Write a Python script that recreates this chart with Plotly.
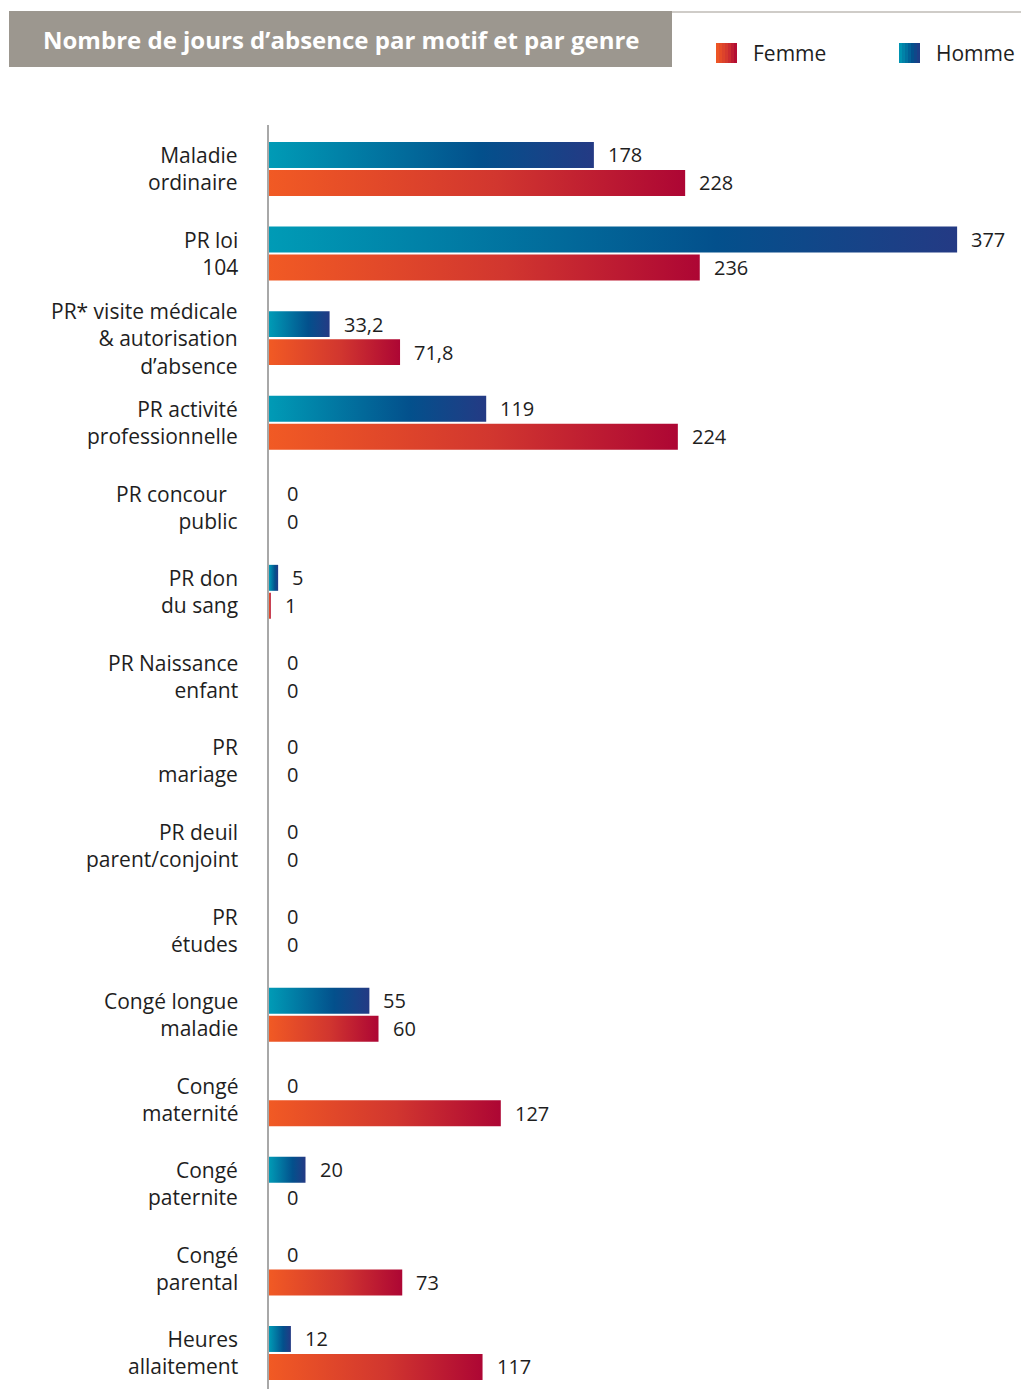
import plotly.graph_objects as go


categories = [
    "Maladie<br>ordinaire",
    "PR loi<br>104",
    "PR* visite médicale<br>& autorisation<br>d’absence",
    "PR activité<br>professionnelle",
    "PR concour\u00a0\u00a0<br>public",
    "PR don<br>du sang",
    "PR Naissance<br>enfant",
    "PR<br>mariage",
    "PR deuil<br>parent/conjoint",
    "PR<br>études",
    "Congé longue<br>maladie",
    "Congé<br>maternité",
    "Congé<br>paternite",
    "Congé<br>parental",
    "Heures<br>allaitement",
]
homme = [178, 377, 33.2, 119, 0, 5, 0, 0, 0, 0, 55, 0, 20, 0, 12]
femme = [228, 236, 71.8, 224, 0, 1, 0, 0, 0, 0, 60, 127, 0, 73, 117]
series_names = ["Femme", "Homme"]
title_text = "Nombre de jours d’absence par motif et par genre"

HOMME_SCALE = [[0, "#009bb6"], [0.65, "#03508c"], [1, "#243a84"]]
FEMME_SCALE = [[0, "#f15a24"], [0.55, "#d1362f"], [1, "#ad0634"]]
FONT = "Open Sans, Noto Sans, sans-serif"
TEXT_COLOR = "#1e1e1e"

W, H = 1021, 1389
M_L, M_T = 269, 125
BAR_H = 0.307
GAP = 0.012


def px_x(px):
    return (px - M_L) / (W - M_L)


def px_y(py):
    return (H - py) / (H - M_T)


def fmt(v):
    return f"{v:g}".replace(".", ",")


def hex_rgb(h):
    h = h.lstrip("#")
    return tuple(int(h[k:k + 2], 16) for k in (0, 2, 4))


def sample_scale(scale, t):
    for (a, ca), (b, cb) in zip(scale[:-1], scale[1:]):
        if a <= t <= b:
            u = (t - a) / (b - a)
            ra, rb = hex_rgb(ca), hex_rgb(cb)
            return "rgb(%d,%d,%d)" % tuple(round(x + (y - x) * u) for x, y in zip(ra, rb))
    return scale[-1][1]


fig = go.Figure()

for i, cat in enumerate(categories):
    rows = [
        (homme[i], i - GAP - BAR_H, i - GAP, HOMME_SCALE, "Homme"),
        (femme[i], i + GAP, i + GAP + BAR_H, FEMME_SCALE, "Femme"),
    ]
    for val, y0, y1, scale, name in rows:
        if val > 0:
            fig.add_trace(go.Scatter(
                x=[0, val, val, 0, 0],
                y=[y0, y0, y1, y1, y0],
                mode="lines",
                line=dict(width=0, color="rgba(0,0,0,0)"),
                fill="toself",
                fillgradient=dict(type="horizontal", colorscale=scale, start=0, stop=val),
                hoveron="fills",
                hoverinfo="text",
                text=f"{cat.replace('<br>', ' ')} – {name} : {fmt(val)}",
                name=name,
                showlegend=False,
            ))
        fig.add_annotation(
            x=val, y=(y0 + y1) / 2, text=fmt(val),
            xanchor="left", xshift=12 if val > 0 else 16, showarrow=False,
            font=dict(family=FONT, size=20, color=TEXT_COLOR),
        )
    fig.add_annotation(
        xref="paper", x=0, y=i, text=cat,
        xanchor="right", align="right", xshift=-29, showarrow=False,
        font=dict(family=FONT, size=21, color=TEXT_COLOR),
    )

# title box
fig.add_shape(type="rect", xref="paper", yref="paper",
              x0=px_x(9), x1=px_x(672), y0=px_y(67), y1=px_y(11),
              fillcolor="#9c978f", line_width=0)
fig.add_shape(type="line", xref="paper", yref="paper",
              x0=px_x(672), x1=px_x(W), y0=px_y(12), y1=px_y(12),
              line=dict(color="#cfccc8", width=2))
fig.add_annotation(xref="paper", yref="paper", x=px_x(341), y=px_y(40),
                   xanchor="center", yanchor="middle",
                   text=f"<b>{title_text}</b>", showarrow=False,
                   font=dict(family=FONT, size=24, color="white"))

# legend
for name, scale, sx in zip(series_names, [FEMME_SCALE, HOMME_SCALE], [716, 899]):
    n = 7
    for k in range(n):
        fig.add_shape(type="rect", xref="paper", yref="paper",
                      x0=px_x(sx + 3 * k), x1=px_x(sx + 3 * k + 3),
                      y0=px_y(63), y1=px_y(43),
                      fillcolor=sample_scale(scale, (k + 0.5) / n), line_width=0)
    fig.add_annotation(xref="paper", yref="paper", x=px_x(sx + 35), y=px_y(53),
                       xanchor="left", yanchor="middle", text=name, showarrow=False,
                       font=dict(family=FONT, size=21, color=TEXT_COLOR))

fig.update_layout(
    width=W, height=H,
    margin=dict(l=M_L, r=0, t=M_T, b=0),
    plot_bgcolor="white",
    paper_bgcolor="white",
    showlegend=False,
    font=dict(family=FONT, color=TEXT_COLOR),
)
fig.update_xaxes(range=[0, 412], visible=False)
fig.update_yaxes(range=[14.426, -0.52], showticklabels=False, showgrid=False,
                 zeroline=False, showline=True, linecolor="#a8a8a8", linewidth=2)

fig.write_html("out.html", config={"displayModeBar": False},
               post_script="document.body.style.margin='0';")
